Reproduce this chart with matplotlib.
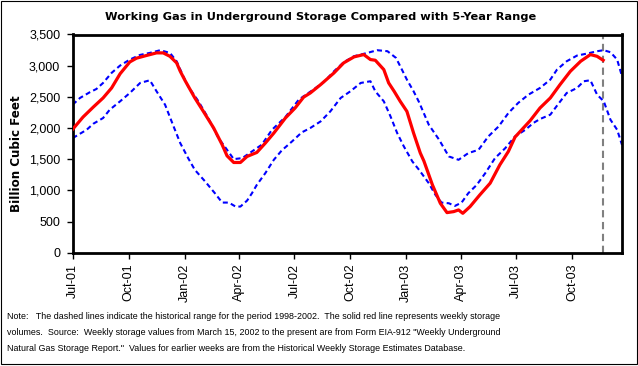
import matplotlib
matplotlib.use('Agg')
import matplotlib.pyplot as plt
import matplotlib.dates as mdates
from matplotlib.patches import Rectangle
from matplotlib.ticker import FuncFormatter
from matplotlib import font_manager
import pandas as pd

# weekly storage (Bcf)
red_dates = ['2001-07-01', '2001-07-18', '2001-08-04', '2001-08-20', '2001-09-03', '2001-09-17',
             '2001-10-03', '2001-10-14', '2001-10-31', '2001-11-16', '2001-11-27', '2001-12-08',
             '2001-12-19', '2001-12-25', '2002-01-02', '2002-01-18', '2002-02-01', '2002-02-18',
             '2002-03-04', '2002-03-12', '2002-03-23', '2002-04-03', '2002-04-14', '2002-04-30',
             '2002-05-14', '2002-05-28', '2002-06-16', '2002-07-02', '2002-07-16', '2002-07-27',
             '2002-08-13', '2002-09-04', '2002-09-20', '2002-10-07', '2002-10-23', '2002-11-03',
             '2002-11-11', '2002-11-25', '2002-12-03', '2002-12-12', '2002-12-22', '2003-01-02',
             '2003-01-13', '2003-01-24', '2003-01-30', '2003-02-13', '2003-02-26', '2003-03-09',
             '2003-03-20', '2003-03-28', '2003-04-04', '2003-04-16', '2003-05-02', '2003-05-19',
             '2003-06-04', '2003-06-18', '2003-06-29', '2003-07-10', '2003-07-24', '2003-08-09',
             '2003-08-26', '2003-09-11', '2003-09-28', '2003-10-15', '2003-10-31', '2003-11-11',
             '2003-11-21']
red_vals = [1980, 2176, 2337, 2482, 2642, 2870,
            3060, 3120, 3165, 3205, 3205, 3150,
            3045, 2910, 2760, 2482, 2267, 2000,
            1731, 1554, 1447, 1447, 1544, 1608,
            1758, 1919, 2160, 2321, 2495, 2562,
            2696, 2884, 3045, 3141, 3178, 3098,
            3087, 2937, 2723, 2589, 2428, 2267,
            1919, 1600, 1470, 1088, 793, 643,
            659, 686, 632, 740, 927, 1115,
            1410, 1624, 1855, 1972, 2120, 2321,
            2482, 2696, 2910, 3071, 3178, 3150,
            3087]

# 5-year maximum (1998-2002)
upper_dates = ['2001-07-01', '2001-07-13', '2001-07-29', '2001-08-09', '2001-08-20', '2001-09-03',
               '2001-09-17', '2001-10-03', '2001-10-20', '2001-11-05', '2001-11-22', '2001-12-08',
               '2001-12-19', '2001-12-30', '2002-01-07', '2002-01-24', '2002-02-09', '2002-02-26',
               '2002-03-12', '2002-03-23', '2002-04-06', '2002-04-22', '2002-05-08', '2002-05-25',
               '2002-06-16', '2002-07-08', '2002-08-01', '2002-08-18', '2002-09-04', '2002-09-20',
               '2002-10-07', '2002-10-29', '2002-11-14', '2002-12-01', '2002-12-15', '2002-12-22',
               '2003-01-02', '2003-01-13', '2003-01-22', '2003-02-07', '2003-02-24', '2003-03-12',
               '2003-03-28', '2003-04-13', '2003-04-30', '2003-05-16', '2003-06-02', '2003-06-18',
               '2003-07-04', '2003-07-21', '2003-08-09', '2003-08-26', '2003-09-06', '2003-09-22',
               '2003-10-09', '2003-10-26', '2003-11-11', '2003-11-22', '2003-12-03', '2003-12-14',
               '2003-12-22']
upper_vals = [2375, 2482, 2573, 2626, 2723, 2884,
              3002, 3098, 3173, 3205, 3248, 3205,
              3071, 2830, 2669, 2428, 2160, 1838,
              1651, 1501, 1517, 1624, 1731, 1972,
              2176, 2455, 2616, 2734, 2910, 3055,
              3152, 3205, 3248, 3232, 3125, 2991,
              2776, 2589, 2415, 2053, 1812, 1544,
              1490, 1597, 1651, 1865, 2026, 2240,
              2401, 2535, 2642, 2776, 2937, 3071,
              3162, 3195, 3232, 3248, 3216, 3098,
              2830]

# 5-year minimum (1998-2002)
lower_dates = ['2001-07-01', '2001-07-13', '2001-07-24', '2001-08-04', '2001-08-20', '2001-08-31',
               '2001-09-17', '2001-10-03', '2001-10-20', '2001-11-05', '2001-11-16', '2001-11-30',
               '2001-12-14', '2001-12-25', '2002-01-07', '2002-01-18', '2002-02-04', '2002-02-20',
               '2002-03-04', '2002-03-15', '2002-03-26', '2002-04-03', '2002-04-14', '2002-04-22',
               '2002-04-30', '2002-05-14', '2002-05-28', '2002-06-10', '2002-06-27', '2002-07-13',
               '2002-07-27', '2002-08-13', '2002-08-29', '2002-09-15', '2002-10-01', '2002-10-18',
               '2002-11-03', '2002-11-11', '2002-11-25', '2002-12-06', '2002-12-17', '2002-12-28',
               '2003-01-11', '2003-01-22', '2003-02-07', '2003-02-18', '2003-02-28', '2003-03-12',
               '2003-03-22', '2003-04-02', '2003-04-13', '2003-04-27', '2003-05-11', '2003-05-27',
               '2003-06-13', '2003-06-29', '2003-07-16', '2003-07-29', '2003-08-09', '2003-08-26',
               '2003-09-06', '2003-09-22', '2003-10-09', '2003-10-20', '2003-10-31', '2003-11-11',
               '2003-11-22', '2003-12-03', '2003-12-14', '2003-12-22']
lower_vals = [1838, 1908, 1972, 2069, 2160, 2294,
              2428, 2562, 2723, 2766, 2589, 2374,
              2026, 1758, 1517, 1329, 1142, 954,
              804, 804, 740, 740, 836, 954,
              1088, 1276, 1490, 1640, 1785, 1930,
              2000, 2106, 2267, 2482, 2589, 2723,
              2750, 2589, 2428, 2187, 1919, 1704,
              1463, 1329, 1115, 927, 804, 793,
              750, 804, 954, 1088, 1276, 1517,
              1678, 1865, 1972, 2080, 2144, 2214,
              2358, 2562, 2642, 2750, 2766, 2535,
              2428, 2133, 1972, 1730]

tick_dates = ['2001-07-01', '2001-10-01', '2002-01-01', '2002-04-01', '2002-07-01',
              '2002-10-01', '2003-01-01', '2003-04-01', '2003-07-01', '2003-10-01']
y_ticks = [0, 500, 1000, 1500, 2000, 2500, 3000, 3500]
latest_week = '2003-11-21'

title = 'Working Gas in Underground Storage Compared with 5-Year Range'
ylabel = 'Billion Cubic Feet'
note_lines = [
    'Note:   The dashed lines indicate the historical range for the period 1998-2002.  The solid red line represents weekly storage',
    'volumes.  Source:  Weekly storage values from March 15, 2002 to the present are from Form EIA-912 "Weekly Underground',
    'Natural Gas Storage Report."  Values for earlier weeks are from the Historical Weekly Storage Estimates Database.',
]

# pick a narrow sans for the footnote if there is one
names = {f.name for f in font_manager.fontManager.ttflist}
if 'Liberation Sans Narrow' in names:
    note_font, note_size = 'Liberation Sans Narrow', 7.8
else:
    note_font, note_size = 'Liberation Sans', 6.4

W, H = 638, 366
fig = plt.figure(figsize=(W / 100, H / 100), dpi=100)
ax = fig.add_axes([72.7 / W, 1 - 252.7 / H, (622 - 72.7) / W, (252.7 - 34.5) / H])

ax.plot(pd.to_datetime(upper_dates), upper_vals, color='#0000ff', lw=1.5,
        linestyle=(0, (2.4, 1.6)), zorder=2)
ax.plot(pd.to_datetime(lower_dates), lower_vals, color='#0000ff', lw=1.5,
        linestyle=(0, (2.4, 1.6)), zorder=2)
ax.plot(pd.to_datetime(red_dates), red_vals, color='#ff0000', lw=2.3, zorder=3)
ax.axvline(pd.to_datetime(latest_week), color='#808080', lw=1.5,
           linestyle=(0, (3.5, 2.2)), zorder=1)

ax.set_xlim(pd.to_datetime('2001-07-01'), pd.to_datetime('2003-12-22'))
ax.set_ylim(0, 3500)
ax.set_yticks(y_ticks)
ax.yaxis.set_major_formatter(FuncFormatter(lambda v, p: f'{int(v):,}'))
ax.set_xticks(pd.to_datetime(tick_dates))
ax.xaxis.set_major_formatter(mdates.DateFormatter('%b-%y'))

for s in ax.spines.values():
    s.set_linewidth(2)
ax.tick_params(axis='both', direction='out', length=4, width=1, labelsize=9)
ax.tick_params(axis='y', pad=5)
ax.tick_params(axis='x', pad=4, labelrotation=90)
for lab in ax.get_xticklabels() + ax.get_yticklabels():
    lab.set_fontfamily('Liberation Sans')

fig.text(320.5 / W, 1 - 17 / H, title, ha='center', va='center',
         fontsize=8.2, fontweight='bold', family='DejaVu Sans')
fig.text(17 / W, 1 - 154 / H, ylabel, ha='center', va='center', rotation=90,
         fontsize=8.6, fontweight='bold', family='DejaVu Sans')

for i, line in enumerate(note_lines):
    fig.text(7 / W, 1 - (316.7 + 16 * i) / H, line, ha='left', va='center',
             fontsize=note_size, family=note_font)

fig.patches.append(Rectangle((0.5 / W, 1 - 364 / H), 636.5 / W, 363.5 / H,
                             transform=fig.transFigure, fill=False,
                             edgecolor='black', lw=0.8))

fig.savefig('out.png', dpi=100)
